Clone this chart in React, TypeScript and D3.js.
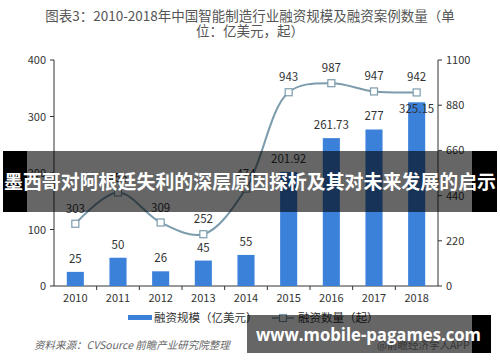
import React from 'react';
import * as d3 from 'd3';

const years = ['2010', '2011', '2012', '2013', '2014', '2015', '2016', '2017', '2018'];
const amounts = [25, 50, 26, 45, 55, 201.92, 261.73, 277, 325.15];
const deals = [303, 455, 309, 252, 474, 943, 987, 947, 942];
const leftTicks = [0, 100, 200, 300, 400];
const rightTicks = [0, 220, 440, 660, 880, 1100];

const titleLines = ['图表3：2010-2018年中国智能制造行业融资规模及融资案例数量（单', '位：亿美元，起）'];
const legendBar = '融资规模（亿美元）';
const legendLine = '融资数量（起）';
const sourceText = '资料来源：CVSource  前瞻产业研究院整理';
const appText = '@前瞻经济学人APP';
const bannerText = '墨西哥对阿根廷失利的深层原因探析及其对未来发展的启示';
const siteText = 'www.mobile-pagames.com';

const W = 500, H = 362;
const left = 54, right = 438, top = 60, bottom = 286;
const barColor = '#3b80d9';
const lineColor = '#7c9cad';
const font = '"Noto Sans CJK SC", "Noto Sans", sans-serif';

export default function App() {
  const x = d3.scaleBand().domain(years).range([left, right]).paddingInner(0.6).paddingOuter(0.3);
  const yL = d3.scaleLinear().domain([0, 400]).range([bottom, top]);
  const yR = d3.scaleLinear().domain([0, 1100]).range([bottom, top]);
  const cx = (d: string) => (x(d) as number) + x.bandwidth() / 2;

  const line = d3.line<number>()
    .x((_, i) => cx(years[i]))
    .y((d) => yR(d))
    .curve(d3.curveCatmullRom.alpha(0.5));

  // the last bar label sits on the bar so it stays clear of the line label
  const barLabelY = (v: number, i: number) => (i === amounts.length - 1 ? yL(v) + 11 : yL(v) - 9);

  return (
    <div style={{ position: 'absolute', left: 0, top: 0, width: W, height: H, background: '#fff' }}>
      <svg width={W} height={H} style={{ display: 'block' }} fontFamily={font}>
        <rect width={W} height={H} fill="#fff" />
        {titleLines.map((t, i) => (
          <text key={i} x={250} y={21 + i * 15} textAnchor="middle" fontSize={13.5} fill="#555">{t}</text>
        ))}

        {/* faint watermark */}
        <text x={0} y={0} transform="translate(150,170) rotate(-35)" fontSize={22} fill="#000" fillOpacity={0.025} fontWeight="bold">前瞻产业研究院</text>

        {/* axes */}
        <line x1={left} x2={left} y1={top} y2={bottom} stroke="#333" />
        <line x1={right} x2={right} y1={top} y2={bottom} stroke="#333" />
        <line x1={left} x2={right} y1={bottom} y2={bottom} stroke="#333" />
        {leftTicks.map((t) => (
          <g key={t}>
            <line x1={left - 4} x2={left} y1={yL(t)} y2={yL(t)} stroke="#333" />
            <text x={left - 8} y={yL(t) + 4} textAnchor="end" fontSize={11} fill="#333">{t}</text>
          </g>
        ))}
        {rightTicks.map((t) => (
          <g key={t}>
            <line x1={right} x2={right + 4} y1={yR(t)} y2={yR(t)} stroke="#333" />
            <text x={right + 8} y={yR(t) + 4} textAnchor="start" fontSize={11} fill="#333">{t}</text>
          </g>
        ))}
        {years.map((d, i) => (
          <g key={d}>
            {i > 0 && <line x1={(x(d) as number) - x.step() * 0.3} x2={(x(d) as number) - x.step() * 0.3} y1={bottom} y2={bottom + 4} stroke="#333" />}
            <text x={cx(d)} y={bottom + 16} textAnchor="middle" fontSize={11} fill="#333">{d}</text>
          </g>
        ))}

        {/* bars */}
        {amounts.map((v, i) => (
          <g key={i}>
            <rect x={x(years[i])} y={yL(v)} width={x.bandwidth()} height={bottom - yL(v)} fill={barColor} />
            <text x={cx(years[i])} y={barLabelY(v, i)} textAnchor="middle" fontSize={11.5} fill="#333">{v}</text>
          </g>
        ))}

        {/* line */}
        <path d={line(deals) || ''} fill="none" stroke={lineColor} strokeWidth={2} />
        {deals.map((v, i) => (
          <g key={i}>
            <rect x={cx(years[i]) - 3.5} y={yR(v) - 3.5} width={7} height={7} fill="#fff" stroke={lineColor} strokeWidth={1.2} />
            <text x={cx(years[i])} y={yR(v) - 11} textAnchor="middle" fontSize={11.5} fill="#333">{v}</text>
          </g>
        ))}

        {/* legend */}
        <rect x={128} y={315} width={24} height={5} fill={barColor} />
        <text x={154} y={322} fontSize={11.5} fill="#333">{legendBar}</text>
        <line x1={272} x2={294} y1={318} y2={318} stroke={lineColor} strokeWidth={1.5} />
        <rect x={279.5} y={314.5} width={7} height={7} fill="#fff" stroke={lineColor} strokeWidth={1.2} />
        <text x={298} y={322} fontSize={11.5} fill="#333">{legendLine}</text>

        <text x={34} y={349} fontSize={10.5} fill="#666" fontStyle="italic">{sourceText}</text>
        <text x={377} y={349} fontSize={10.5} fill="#888">{appText}</text>

        {/* overlay banner */}
        <rect x={3} y={151} width={24} height={61} fill="#000" />
        <rect x={472} y={151} width={25} height={61} fill="#000" />
        <rect x={27} y={151} width={445} height={61} fill="#000" fillOpacity={0.6} />
        <text x={4} y={189} fontSize={19} fontWeight="bold" fill="#fff" textLength={492} lengthAdjust="spacingAndGlyphs">{bannerText}</text>

        {/* site watermark */}
        <rect x={472} y={315} width={19} height={38} fill="#000" />
        <rect x={247} y={315} width={225} height={38} fill="#000" fillOpacity={0.6} />
        <text x={256} y={341} fontSize={18} fontWeight="bold" fill="#fff" textLength={225} lengthAdjust="spacingAndGlyphs" fontFamily='"Open Sans", "DejaVu Sans", sans-serif'>{siteText}</text>
      </svg>
    </div>
  );
}
